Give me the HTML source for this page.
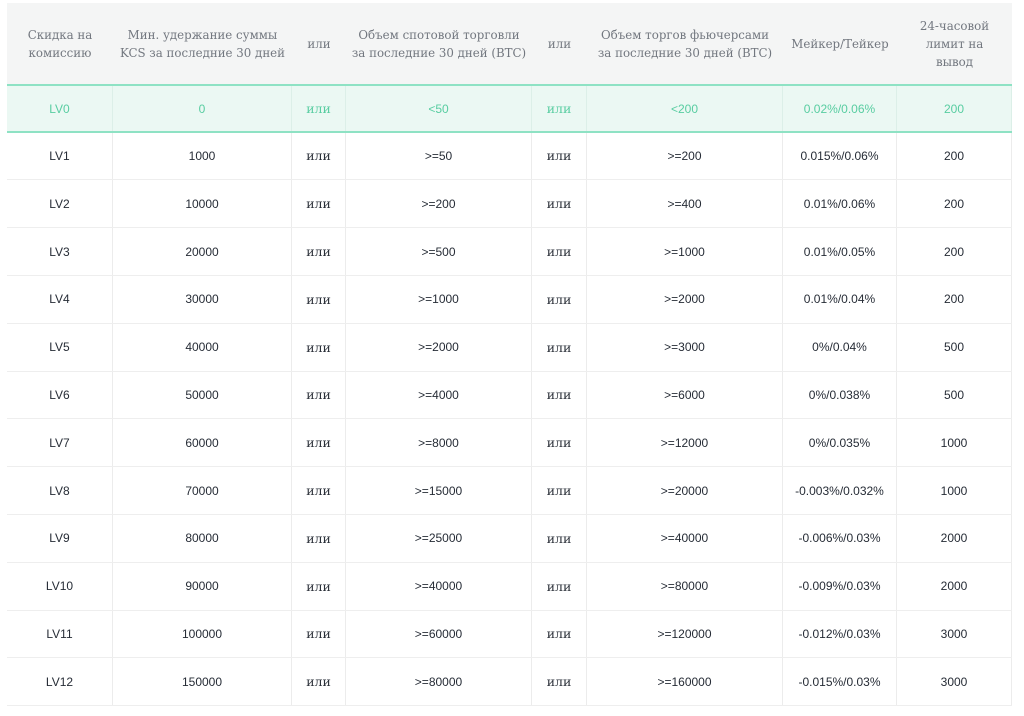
<!DOCTYPE html>
<html><head><meta charset="utf-8">
<style>
html,body{margin:0;padding:0;background:#fff;}
body{width:1024px;height:716px;position:relative;overflow:hidden;font-family:"Liberation Sans","DejaVu Sans",sans-serif;}
.hdr{position:absolute;left:7px;top:3px;width:1005px;height:81px;background:#f4f5f5;display:flex;}
.hdr div{box-sizing:border-box;display:flex;align-items:center;justify-content:center;text-align:center;font-family:"DejaVu Serif","Liberation Serif",serif;font-size:11.8px;line-height:18px;color:#72777f;}
.row{position:absolute;left:7px;width:1005px;height:47.8px;display:flex;box-sizing:border-box;border-bottom:1px solid #eeeeee;}
.row div{box-sizing:border-box;display:flex;align-items:center;justify-content:center;border-right:1px solid #ececec;font-size:12px;color:#262c36;}
.row div.o{font-family:"DejaVu Serif","Liberation Serif",serif;font-size:12.5px;color:#2a2f38;}
.row.g{background:#ebf8f3;border-top:2px solid #8ee2c4;border-bottom:2px solid #8ee2c4;height:49px;}
.row.g div{color:#58cda1;border-right-color:#dcefe8;}
.row.g div.o{color:#58cda1;}
.c1{width:106px}.c2{width:179px}.c3{width:54px}.c4{width:186px}.c5{width:55px}.c6{width:196px}.c7{width:114px}.c8{width:115px}
</style></head><body>
<div class="hdr">
<div class="c1">Скидка на<br>комиссию</div>
<div class="c2">Мин. удержание суммы<br>KCS за последние 30 дней</div>
<div class="c3">или</div>
<div class="c4">Объем спотовой торговли<br>за последние 30 дней (BTC)</div>
<div class="c5">или</div>
<div class="c6">Объем торгов фьючерсами<br>за последние 30 дней (BTC)</div>
<div class="c7">Мейкер/Тейкер</div>
<div class="c8">24-часовой<br>лимит на<br>вывод</div>
</div>

<div class="row g" style="top:84px"><div class="c1">LV0</div><div class="c2">0</div><div class="c3 o">или</div><div class="c4">&lt;50</div><div class="c5 o">или</div><div class="c6">&lt;200</div><div class="c7">0.02%/0.06%</div><div class="c8">200</div></div>

<div class="row" style="top:132.6px"><div class="c1">LV1</div><div class="c2">1000</div><div class="c3 o">или</div><div class="c4">&gt;=50</div><div class="c5 o">или</div><div class="c6">&gt;=200</div><div class="c7">0.015%/0.06%</div><div class="c8">200</div></div>
<div class="row" style="top:180.4px"><div class="c1">LV2</div><div class="c2">10000</div><div class="c3 o">или</div><div class="c4">&gt;=200</div><div class="c5 o">или</div><div class="c6">&gt;=400</div><div class="c7">0.01%/0.06%</div><div class="c8">200</div></div>
<div class="row" style="top:228.2px"><div class="c1">LV3</div><div class="c2">20000</div><div class="c3 o">или</div><div class="c4">&gt;=500</div><div class="c5 o">или</div><div class="c6">&gt;=1000</div><div class="c7">0.01%/0.05%</div><div class="c8">200</div></div>
<div class="row" style="top:276px"><div class="c1">LV4</div><div class="c2">30000</div><div class="c3 o">или</div><div class="c4">&gt;=1000</div><div class="c5 o">или</div><div class="c6">&gt;=2000</div><div class="c7">0.01%/0.04%</div><div class="c8">200</div></div>
<div class="row" style="top:323.8px"><div class="c1">LV5</div><div class="c2">40000</div><div class="c3 o">или</div><div class="c4">&gt;=2000</div><div class="c5 o">или</div><div class="c6">&gt;=3000</div><div class="c7">0%/0.04%</div><div class="c8">500</div></div>
<div class="row" style="top:371.6px"><div class="c1">LV6</div><div class="c2">50000</div><div class="c3 o">или</div><div class="c4">&gt;=4000</div><div class="c5 o">или</div><div class="c6">&gt;=6000</div><div class="c7">0%/0.038%</div><div class="c8">500</div></div>
<div class="row" style="top:419.4px"><div class="c1">LV7</div><div class="c2">60000</div><div class="c3 o">или</div><div class="c4">&gt;=8000</div><div class="c5 o">или</div><div class="c6">&gt;=12000</div><div class="c7">0%/0.035%</div><div class="c8">1000</div></div>
<div class="row" style="top:467.2px"><div class="c1">LV8</div><div class="c2">70000</div><div class="c3 o">или</div><div class="c4">&gt;=15000</div><div class="c5 o">или</div><div class="c6">&gt;=20000</div><div class="c7">-0.003%/0.032%</div><div class="c8">1000</div></div>
<div class="row" style="top:515px"><div class="c1">LV9</div><div class="c2">80000</div><div class="c3 o">или</div><div class="c4">&gt;=25000</div><div class="c5 o">или</div><div class="c6">&gt;=40000</div><div class="c7">-0.006%/0.03%</div><div class="c8">2000</div></div>
<div class="row" style="top:562.8px"><div class="c1">LV10</div><div class="c2">90000</div><div class="c3 o">или</div><div class="c4">&gt;=40000</div><div class="c5 o">или</div><div class="c6">&gt;=80000</div><div class="c7">-0.009%/0.03%</div><div class="c8">2000</div></div>
<div class="row" style="top:610.6px"><div class="c1">LV11</div><div class="c2">100000</div><div class="c3 o">или</div><div class="c4">&gt;=60000</div><div class="c5 o">или</div><div class="c6">&gt;=120000</div><div class="c7">-0.012%/0.03%</div><div class="c8">3000</div></div>
<div class="row" style="top:658.4px"><div class="c1">LV12</div><div class="c2">150000</div><div class="c3 o">или</div><div class="c4">&gt;=80000</div><div class="c5 o">или</div><div class="c6">&gt;=160000</div><div class="c7">-0.015%/0.03%</div><div class="c8">3000</div></div>
</body></html>
